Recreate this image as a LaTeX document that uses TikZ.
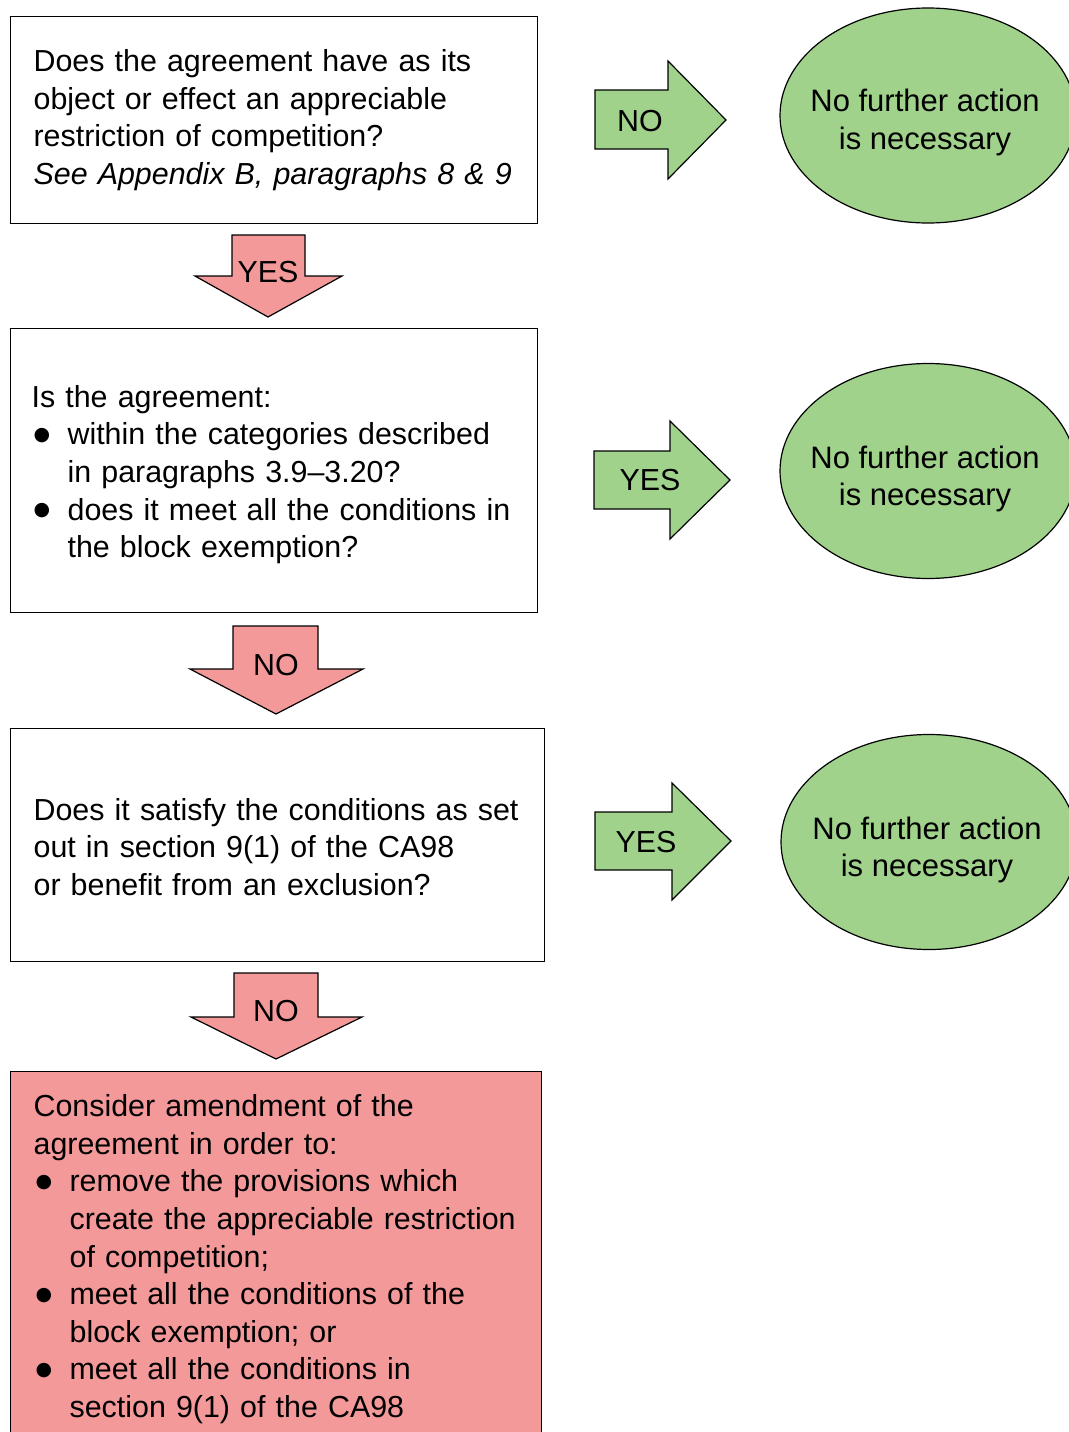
\documentclass[tikz,border=0pt]{standalone}
\usepackage{fontspec}
\setmainfont{Liberation Sans}
\newfontfamily\dvs{DejaVu Sans}
\usetikzlibrary{shapes.geometric}
\definecolor{okgreen}{RGB}{160,210,140}
\definecolor{warnpink}{RGB}{244,153,153}
\newlength\bind \setlength\bind{36pt}
\newcommand\bul{\raisebox{4.5pt}{\dvs\fontsize{19}{19}\selectfont ●}}
\newcommand\bitem[1]{\par\noindent\hangindent=\bind\hangafter=1\makebox[\bind][l]{\hspace{2pt}\bul}#1\par}
\begin{document}
\begin{tikzpicture}[x=1pt, y=-1pt, line width=1.2pt,
  font=\fontsize{30.4}{37.6}\selectfont,
  box/.style={draw=black, inner sep=0pt, anchor=north west},
  txt/.style={text width=520pt, align=left, inner sep=0pt},
  ell/.style={ellipse, draw=black, fill=okgreen, minimum width=296pt, minimum height=215pt, inner sep=0pt},
  etxt/.style={align=center, inner sep=0pt, font=\fontsize{31}{37.6}\selectfont},
  rarr/.style={draw=black, fill=okgreen, line join=miter},
  darr/.style={draw=black, fill=warnpink, line join=miter},
  lbl/.style={inner sep=0pt}]
\useasboundingbox (0,0) rectangle (1068,1432);

% question boxes
\node[box, minimum width=527pt, minimum height=207pt] (b1) at (10,16) {};
\node[box, minimum width=527pt, minimum height=284pt] (b2) at (10,328) {};
\node[box, minimum width=534pt, minimum height=233pt] (b3) at (10,728) {};
\node[box, fill=warnpink, minimum width=531pt, minimum height=390pt] (b4) at (10,1071) {};

\node[txt, anchor=west] (t1) at ([xshift=23pt]b1.west) {Does the agreement have as its\\object or effect an appreciable\\restriction of competition?\\\itshape See Appendix B, paragraphs 8 \& 9};
\node[txt, anchor=west] (t2) at ([xshift=21pt, yshift=-4pt]b2.west) {Is the agreement:%
\bitem{within the categories described\newline in paragraphs 3.9–3.20?}%
\bitem{does it meet all the conditions in\newline the block exemption?}};
\node[txt, anchor=west] (t3) at ([xshift=23pt, yshift=-2pt]b3.west) {Does it satisfy the conditions as set\\out in section 9(1) of the CA98\\or benefit from an exclusion?};
\node[txt, anchor=north west] (t4) at ([xshift=23pt, yshift=-23pt]b4.north west) {Consider amendment of the\newline agreement in order to:%
\bitem{remove the provisions which\newline create the appreciable restriction\newline of competition;}%
\bitem{meet all the conditions of the\newline block exemption; or}%
\bitem{meet all the conditions in\newline section 9(1) of the CA98}};

% outcome ellipses
\node[ell] (e1) at (928,115.5) {};
\node[etxt] (e1t) at ([xshift=-3pt, yshift=-7pt]e1.center) {No further action\\is necessary};
\node[ell] (e2) at (928,471) {};
\node[etxt] (e2t) at ([xshift=-3pt, yshift=-8pt]e2.center) {No further action\\is necessary};
\node[ell] (e3) at (929,842) {};
\node[etxt] (e3t) at ([xshift=-2pt, yshift=-8pt]e3.center) {No further action\\is necessary};

% right (green) block arrows
\draw[rarr] (595,90) -- (668,90) -- (668,61) -- (726,120) -- (668,179) -- (668,149) -- (595,149) -- cycle;
\node[lbl] (r1) at (640,121) {NO};
\draw[rarr] (594,451) -- (670,451) -- (670,421) -- (730,480) -- (670,539) -- (670,509) -- (594,509) -- cycle;
\node[lbl] (r2) at (650,480) {YES};
\draw[rarr] (595,812) -- (672,812) -- (672,783) -- (731,841) -- (672,900) -- (672,870) -- (595,870) -- cycle;
\node[lbl] (r3) at (646,842) {YES};

% down (pink) block arrows
\draw[darr] (232,235) -- (305,235) -- (305,276) -- (342,276) -- (268,317) -- (195,276) -- (232,276) -- cycle;
\node[lbl] (d1) at (268,272) {YES};
\draw[darr] (233,626) -- (318,626) -- (318,669) -- (363,669) -- (276,714) -- (190,669) -- (233,669) -- cycle;
\node[lbl] (d2) at (276,665) {NO};
\draw[darr] (234,973) -- (318,973) -- (318,1017) -- (362,1017) -- (276,1059) -- (191,1017) -- (234,1017) -- cycle;
\node[lbl] (d3) at (276,1011) {NO};
\end{tikzpicture}
\end{document}
